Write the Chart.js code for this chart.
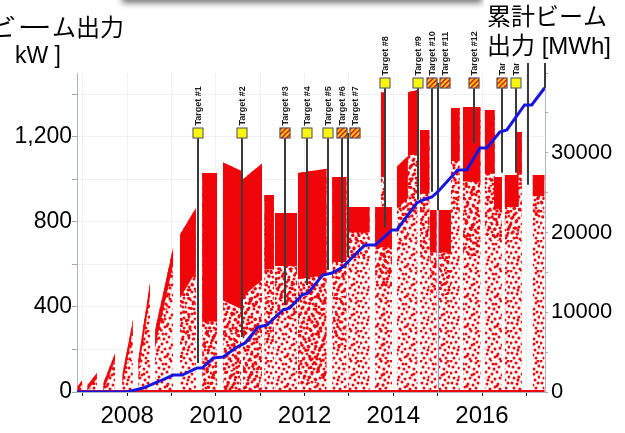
<!DOCTYPE html>
<html>
<head>
<meta charset="utf-8">
<script src="https://cdn.jsdelivr.net/npm/chart.js@4/dist/chart.umd.min.js"></script>
<style>
  html, body { margin: 0; padding: 0; background: #fff; overflow: hidden; }
  #wrap { position: relative; width: 625px; height: 433px; }
</style>
</head>
<body>
<div id="wrap"><canvas id="c" width="625" height="433"></canvas></div>
<script>
// ---- beam operation runs: time span (year), power envelope at start/end (kW),
// ---- and depth of the saturated band below the envelope (kW)
const runStart = [2006.88, 2007.10, 2007.46, 2007.89, 2008.25, 2008.63, 2009.19, 2009.69, 2010.16, 2010.61,
                  2011.09, 2011.33, 2011.85, 2012.62, 2012.98, 2013.59, 2013.72, 2014.08, 2014.33, 2014.60,
                  2014.82, 2015.03, 2015.30, 2015.57, 2016.06, 2016.27, 2016.51, 2016.78, 2017.14];
const runEnd   = [2006.99, 2007.32, 2007.73, 2008.13, 2008.52, 2009.04, 2009.55, 2010.03, 2010.57, 2011.04,
                  2011.31, 2011.83, 2012.50, 2012.95, 2013.47, 2013.97, 2013.81, 2014.33, 2014.55, 2014.82,
                  2014.98, 2015.30, 2015.50, 2015.97, 2016.29, 2016.45, 2016.83, 2016.90, 2017.41];
const runTopStart = [25, 30, 40, 80, 150, 290, 740, 1030, 1080, 1000,
                     926, 842, 1030, 1011, 870, 870, 1410, 1060, 1410, 1232,
                     856, 856, 1335, 1340, 1326, 1011, 1020, 1222, 1020];
const runTopEnd   = [56, 90, 183, 339, 517, 682, 865, 1030, 1040, 1075,
                     926, 842, 1050, 1011, 870, 870, 1410, 1110, 1420, 1232,
                     856, 856, 1335, 1340, 1326, 1011, 1020, 1222, 1020];
const runDenseDepth = [20, 25, 35, 50, 60, 80, 300, 700, 650, 550,
                       350, 250, 500, 400, 120, 190, 400, 200, 300, 300,
                       200, 200, 250, 350, 300, 150, 150, 200, 100];

// ---- cumulative delivered beam energy (MWh)
const cumYears = [2006.87, 2008.00, 2008.36, 2008.74, 2009.04, 2009.24, 2009.58, 2009.69, 2009.94, 2010.16,
                  2010.48, 2010.66, 2010.95, 2011.15, 2011.51, 2011.67, 2011.94, 2012.08, 2012.41, 2012.62,
                  2012.86, 2013.02, 2013.36, 2013.59, 2013.70, 2013.97, 2014.08, 2014.53, 2014.67, 2014.87,
                  2015.00, 2015.45, 2015.66, 2015.95, 2016.11, 2016.40, 2016.56, 2016.96, 2017.12, 2017.41];
const cumMWh   = [0, 0, 500, 1380, 2130, 2130, 3010, 3010, 4260, 4390,
                  5640, 6150, 8150, 8400, 10280, 10530, 12160, 12420, 14670, 14920,
                  15680, 16550, 18430, 18430, 18940, 20320, 20320, 23700, 24080, 24450,
                  25080, 27840, 27840, 30600, 30600, 32600, 32860, 35990, 35990, 38120];

// ---- targets
const targetNames = ['Target #1', 'Target #2', 'Target #3', 'Target #4', 'Target #5', 'Target #6', 'Target #7',
                     'Target #8', 'Target #9', 'Target #10', 'Target #11', 'Target #12', 'Target #13', 'Target #14'];
const targetYears = [2009.60, 2010.59, 2011.56, 2012.05, 2012.53, 2012.84, 2012.98,
                     2013.81, 2014.55, 2014.87, 2015.01, 2015.82, 2016.45, 2016.76];
const targetEndMWh = [3640, 6900, 10900, 13400, 15300, 16200, 16900,
                      20600, 24100, 25100, 22800, 31200, 27500, 27500];
const targetRow = [0, 0, 0, 0, 0, 0, 0, 1, 1, 1, 1, 1, 1, 1];
const targetHatched = [false, false, true, false, false, true, true,
                       false, false, true, true, true, true, false];
const targetTail = [false, false, false, false, false, false, false,
                    false, false, false, true, false, false, false];
// marker lines whose tags sit under the right-hand title
const markerYears = [2017.03, 2017.42];
const markerEndMWh = [26000, 38120];

// ---- axes
const X_MIN = 2006.87, X_MAX = 2017.42;
const xTickYears = [2007, 2008, 2009, 2010, 2011, 2012, 2013, 2014, 2015, 2016, 2017];
const kwTicks = [0, 100, 200, 300, 400, 500, 600, 700, 800, 900, 1000, 1100, 1200, 1300, 1400, 1500];
const mwhTicks = [0, 2500, 5000, 7500, 10000, 12500, 15000, 17500, 20000, 22500, 25000,
                  27500, 30000, 32500, 35000, 37500, 40000];
const mwhLabelled = [0, 10000, 20000, 30000];

// ---- styling
const RED = 'rgb(240,6,10)';
const BLUE = 'rgb(22,22,225)';
const GRID = 'rgba(0,0,0,0.055)';
const AXIS = 'rgb(175,182,192)';
const LATIN = '"Liberation Sans", Arial, sans-serif';
const CJK = '"Liberation Sans", "Noto Sans CJK JP", sans-serif';
const JP = '"Noto Sans CJK JP", sans-serif';
const TARGET_ROW_KW = [1220, 1453];
const BOX = 11;

const canvas = document.getElementById('c');
const ctx0 = canvas.getContext('2d');

// red dot texture; tiles of different sizes keep the two layers from lining up
function dotPattern(dots, r, size) {
  const tile = document.createElement('canvas');
  tile.width = size; tile.height = size;
  const g = tile.getContext('2d');
  const k = size / 30;
  g.fillStyle = RED;
  for (const [x, y] of dots) {
    g.beginPath(); g.arc(x * k, y * k, r, 0, Math.PI * 2); g.fill();
  }
  return ctx0.createPattern(tile, 'repeat');
}
const sparseDots = dotPattern([[1,1],[6,3],[11,0],[16,4],[21,1],[26,3],[3,7],[9,8],[14,9],[19,7],[24,9],[29,6],
  [1,13],[6,12],[12,14],[17,12],[22,15],[27,12],[4,18],[9,17],[15,19],[20,18],[25,20],[29,17],[2,23],[7,24],
  [12,22],[18,24],[23,25],[28,23],[4,28],[10,29],[15,27],[20,29],[26,28],[13,4],[24,14],[8,20],[17,26],[28,1]], 1.5, 30);
const mediumDots = dotPattern([[3,2],[8,0],[13,2],[18,1],[23,4],[28,5],[0,9],[5,10],[11,6],[16,8],[21,11],[26,8],
  [3,15],[8,14],[14,16],[19,14],[24,17],[29,13],[1,20],[6,21],[11,19],[17,21],[22,22],[27,19],[4,25],[9,26],
  [15,24],[20,26],[25,27],[29,29],[2,29],[12,28],[18,29],[7,5],[22,6],[10,11],[27,24],[16,11],[13,21],[24,2]], 1.7, 37);

const hidden = { borderColor: 'rgba(0,0,0,0)', borderWidth: 1, pointRadius: 0, order: 5 };
const datasets = [];

// cumulative energy, drawn above everything else
datasets.push({
  id: 'cumulative', yAxisID: 'y2', order: 0,
  data: cumYears.map((x, i) => ({ x, y: cumMWh[i] })),
  borderColor: BLUE, borderWidth: 3, pointRadius: 0, fill: false, tension: 0
});
// readings at zero power along the bottom
datasets.push({
  yAxisID: 'y', order: 1,
  data: [{ x: runStart[0], y: 0 }, { x: runEnd[runEnd.length - 1], y: 0 }],
  borderColor: RED, borderWidth: 4, pointRadius: 0, fill: false
});
// each run: scattered readings up to the envelope, denser towards it, saturated band on top
runStart.forEach((t0, i) => {
  const t1 = runEnd[i];
  const d = runDenseDepth[i];
  const top = [{ x: t0, y: runTopStart[i] }, { x: t1, y: runTopEnd[i] }];
  const bandLow = top.map(p => ({ x: p.x, y: Math.max(0, p.y - d) }));
  const midLow = top.map(p => ({ x: p.x, y: Math.max(0, p.y - 2 * d) }));
  datasets.push({ ...hidden, yAxisID: 'y', data: top, fill: 'origin', backgroundColor: sparseDots });
  const iMid = datasets.length;
  datasets.push({ ...hidden, yAxisID: 'y', data: midLow, fill: false });
  datasets.push({ ...hidden, yAxisID: 'y', data: top, fill: iMid, backgroundColor: mediumDots });
  const iBand = datasets.length;
  datasets.push({ ...hidden, yAxisID: 'y', data: bandLow, fill: false });
  datasets.push({ ...hidden, yAxisID: 'y', data: top, fill: iBand, backgroundColor: RED });
});

function targetBoxCenters(chart) {
  const xs = chart.scales.x, yk = chart.scales.y;
  const last = [-1e9, -1e9];
  return targetYears.map((yr, i) => {
    const row = targetRow[i];
    const lx = Math.round(xs.getPixelForValue(yr));
    const bx = Math.max(lx, last[row] + BOX + 2);
    last[row] = bx;
    return { lx, bx, by: Math.round(yk.getPixelForValue(TARGET_ROW_KW[row])) };
  });
}

const targetPlugin = {
  id: 'targets',
  beforeDatasetDraw(chart, args) {
    if (chart.data.datasets[args.index].id !== 'cumulative') return;
    const ctx = chart.ctx, xs = chart.scales.x, ym = chart.scales.y2;
    const centers = targetBoxCenters(chart);
    ctx.save();
    targetYears.forEach((yr, i) => {
      const c = centers[i];
      const bot = ym.getPixelForValue(targetEndMWh[i]);
      if (targetTail[i]) {
        ctx.strokeStyle = 'rgba(120,150,205,0.9)'; ctx.lineWidth = 1;
        ctx.beginPath(); ctx.moveTo(c.lx + 0.5, bot); ctx.lineTo(c.lx + 0.5, chart.chartArea.bottom); ctx.stroke();
      }
      ctx.strokeStyle = 'rgb(58,58,58)'; ctx.lineWidth = 2;
      ctx.beginPath(); ctx.moveTo(c.lx, c.by); ctx.lineTo(c.lx, bot); ctx.stroke();
    });
    markerYears.forEach((yr, i) => {
      const lx = Math.round(xs.getPixelForValue(yr));
      ctx.strokeStyle = 'rgb(58,58,58)'; ctx.lineWidth = 2;
      ctx.beginPath(); ctx.moveTo(lx, 0); ctx.lineTo(lx, ym.getPixelForValue(markerEndMWh[i])); ctx.stroke();
    });
    ctx.restore();
  },
  afterDatasetsDraw(chart) {
    const ctx = chart.ctx;
    const centers = targetBoxCenters(chart);
    ctx.save();
    centers.forEach((c, i) => {
      const x0 = c.bx - BOX / 2, y0 = c.by - BOX / 2;
      ctx.save();
      ctx.beginPath(); ctx.rect(x0, y0, BOX, BOX); ctx.clip();
      if (targetHatched[i]) {
        ctx.fillStyle = 'rgb(222,36,26)'; ctx.fillRect(x0, y0, BOX, BOX);
        ctx.strokeStyle = 'rgb(255,206,10)'; ctx.lineWidth = 1.8;
        for (let k = -BOX; k < BOX * 2; k += 5) {
          ctx.beginPath(); ctx.moveTo(x0 + k, y0 + BOX); ctx.lineTo(x0 + k + BOX, y0); ctx.stroke();
        }
      } else {
        ctx.fillStyle = 'rgb(250,245,10)'; ctx.fillRect(x0, y0, BOX, BOX);
      }
      ctx.restore();
      ctx.strokeStyle = 'rgb(70,80,120)'; ctx.lineWidth = 1;
      ctx.strokeRect(x0 + 0.5, y0 + 0.5, BOX - 1, BOX - 1);
      // rotated tag
      ctx.save();
      ctx.translate(c.bx + 1, y0 - 2);
      ctx.rotate(-Math.PI / 2);
      ctx.font = 'bold 9px ' + LATIN;
      ctx.fillStyle = '#1c1c1c';
      ctx.textAlign = 'left'; ctx.textBaseline = 'middle';
      ctx.fillText(targetNames[i], 0, 0);
      ctx.restore();
    });
    ctx.restore();
  }
};

const titlePlugin = {
  id: 'titles',
  afterDraw(chart) {
    const ctx = chart.ctx;
    ctx.save();
    // shadow of the panel above
    ctx.shadowColor = 'rgba(0,0,0,0.55)'; ctx.shadowBlur = 6; ctx.shadowOffsetY = 3;
    ctx.fillStyle = '#fff';
    ctx.fillRect(122, -20, 360, 20);
    ctx.shadowColor = 'rgba(0,0,0,0)';
    // left axis title, running off the left edge
    ctx.fillStyle = '#000';
    ctx.textBaseline = 'alphabetic';
    ctx.textAlign = 'right';
    ctx.font = '24px ' + JP;
    ctx.fillText('ム出力', 124, 36);
    ctx.save();
    ctx.translate(52, 36);
    ctx.scale(1.45, 1);
    ctx.fillText('ビー', 0, 0);
    ctx.restore();
    ctx.textAlign = 'left';
    ctx.font = '23px ' + LATIN;
    ctx.fillText('kW ]', 15, 63);
    // right axis title on its own white panel
    ctx.fillStyle = '#fff';
    ctx.fillRect(484, 0, 141, 63);
    ctx.fillStyle = '#000';
    ctx.font = '24px ' + JP;
    ctx.fillText('累計ビーム', 487, 25);
    ctx.font = '24px ' + CJK;
    ctx.fillText('出力 [MWh]', 487, 54);
    ctx.restore();
  }
};

new Chart(canvas, {
  type: 'line',
  data: { datasets },
  plugins: [targetPlugin, titlePlugin],
  options: {
    responsive: false,
    animation: false,
    events: [],
    layout: { padding: { top: 73, left: 0, right: 0, bottom: 0 } },
    plugins: { legend: { display: false }, tooltip: { enabled: false } },
    elements: { point: { radius: 0 }, line: { tension: 0 } },
    scales: {
      x: {
        type: 'linear', min: X_MIN, max: X_MAX,
        afterBuildTicks: a => { a.ticks = xTickYears.map(v => ({ value: v })); },
        afterFit: s => { s.height = 41; },
        grid: { color: GRID, tickColor: '#222', tickLength: 4 },
        border: { color: AXIS },
        ticks: {
          autoSkip: false, maxRotation: 0, padding: 6, color: '#000',
          font: { family: LATIN, size: 24 },
          callback: v => (v % 2 === 0 ? String(v) : '')
        }
      },
      y: {
        position: 'left', min: 0, max: 1500,
        afterBuildTicks: a => { a.ticks = kwTicks.map(v => ({ value: v })); },
        afterFit: s => { s.width = 77; },
        grid: { color: GRID, tickColor: 'rgb(160,168,180)', tickLength: 5 },
        border: { color: AXIS },
        ticks: {
          padding: 0, color: '#000',
          font: { family: LATIN, size: 23 },
          callback: v => (v % 400 === 0 ? v.toLocaleString('en-US') : '')
        }
      },
      y2: {
        position: 'right', min: 0, max: 40000,
        afterBuildTicks: a => { a.ticks = mwhTicks.map(v => ({ value: v })); },
        afterFit: s => { s.width = 80; },
        grid: { drawOnChartArea: false, tickColor: 'rgb(160,168,180)', tickLength: 3 },
        border: { color: AXIS },
        ticks: {
          padding: 3, color: '#000',
          font: { family: LATIN, size: 22 },
          callback: v => (mwhLabelled.includes(v) ? String(v) : '')
        }
      }
    }
  }
});
</script>
</body>
</html>
